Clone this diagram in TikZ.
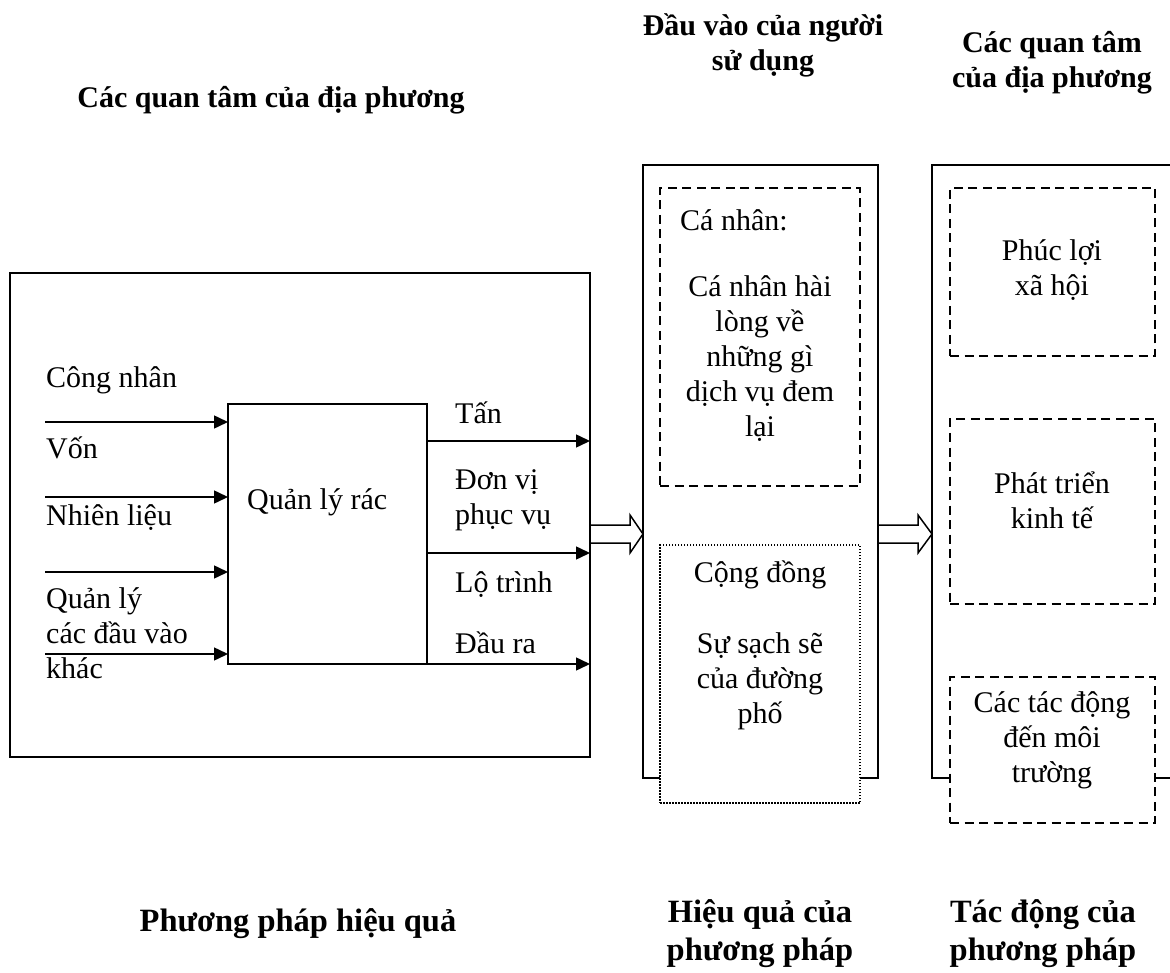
\documentclass[tikz,border=0pt]{standalone}
\usepackage{fontspec}
\setmainfont{Liberation Serif}
\usetikzlibrary{arrows.meta}
\begin{document}
\begin{tikzpicture}[x=1pt,y=-1pt,
  txt/.style={font=\fontsize{30}{35}\selectfont, inner sep=0pt},
  ttl/.style={font=\fontsize{30}{35}\selectfont\bfseries, inner sep=0pt, align=center},
  bttl/.style={font=\fontsize{32.5}{38}\selectfont\bfseries, inner sep=0pt, align=center},
  frame/.style={draw, line width=1.5pt, inner sep=0pt, outer sep=0pt, anchor=north west},
  dashbox/.style={frame, fill=white, line width=1.6pt, dash pattern=on 9pt off 5.5pt},
  dotbox/.style={frame, fill=white, line width=1.5pt, dash pattern=on 1.5pt off 1.5pt},
  arr/.style={line width=1.5pt, -{Triangle[length=14pt,width=13pt]}},
  hollow/.style={draw, line width=1.5pt, fill=white, line join=miter}
]
\useasboundingbox (0,0) rectangle (1170,973);
\clip (0,0) rectangle (1170,973);

% titles
\node[ttl] (t1) at (271,100) {Các quan tâm của địa phương};
\node[ttl] (t2) at (763,45) {Đầu vào của người\\sử dụng};
\node[ttl] (t3) at (1052,63) {Các quan tâm\\của địa phương};
\node[bttl] (b1) at (298,924) {Phương pháp hiệu quả};
\node[bttl] (b2) at (760,934) {Hiệu quả của\\phương pháp};
\node[bttl] (b3) at (1043,934) {Tác động của\\phương pháp};

% left block
\node[frame, minimum width=580pt, minimum height=484pt] (leftbox) at (10,273) {};
\node[frame, minimum width=199pt, minimum height=260pt] (qlr) at (228,404) {};
\node[txt, anchor=west] (qlrt) at (247,502) {Quản lý rác};

\coordinate (in1) at (45,422);
\coordinate (in2) at (45,497);
\coordinate (in3) at (45,572);
\coordinate (in4) at (45,654);
\foreach \c in {in1,in2,in3,in4} \draw[arr] (\c) -- (\c -| qlr.west);

\node[txt, anchor=west] (l1) at (46,380) {Công nhân};
\node[txt, anchor=west] (l2) at (46,448) {Vốn};
\node[txt, anchor=west] (l3) at (46,518) {Nhiên liệu};
\node[txt, anchor=west, align=left] (l4) at (46,633) {Quản lý\\các đầu vào\\khác};

\coordinate (o1) at (427,441);
\coordinate (o2) at (427,553);
\draw[arr] (o1) -- (o1 -| leftbox.east);
\draw[arr] (o2) -- (o2 -| leftbox.east);
\draw[arr] (qlr.south east) -- (qlr.south east -| leftbox.east);

\node[txt, anchor=west] (r1) at (455,413) {Tấn};
\node[txt, anchor=west, align=left] (r2) at (455,500) {Đơn vị\\phục vụ};
\node[txt, anchor=west] (r3) at (455,585) {Lộ trình};
\node[txt, anchor=west] (r4) at (455,643) {Đầu ra};

% middle column
\node[frame, minimum width=235pt, minimum height=613pt] (midcol) at (643,165) {};
\node[dashbox, minimum width=200pt, minimum height=298pt] (cn) at (660,188) {};
\node[dotbox, minimum width=200pt, minimum height=258pt] (cd) at (660,545) {};
\node[txt, anchor=west] (cnt) at (680,220) {Cá nhân:};
\node[txt, align=center] (cnb) at (760,359) {Cá nhân hài\\lòng về\\những gì\\dịch vụ đem\\lại};
\node[txt] (cdt) at (760,575) {Cộng đồng};
\node[txt, align=center] (cdb) at (760,681) {Sự sạch sẽ\\của đường\\phố};

% right column
\node[frame, minimum width=270pt, minimum height=613pt] (rightcol) at (932,165) {};
\node[dashbox, minimum width=205pt, minimum height=168pt] (rb1) at (950,188) {};
\node[dashbox, minimum width=205pt, minimum height=185pt] (rb2) at (950,419) {};
\node[dashbox, minimum width=205pt, minimum height=146pt] (rb3) at (950,677) {};
\node[txt, align=center] (rb1t) at (1052,270) {Phúc lợi\\xã hội};
\node[txt, align=center] (rb2t) at (1052,500) {Phát triển\\kinh tế};
\node[txt, align=center] (rb3t) at (1052,740) {Các tác động\\đến môi\\trường};

% hollow arrows
\path[hollow] (leftbox.east |- 0,525) -- (630,525) -- (630,515) -- (midcol.west |- 0,534)
  -- (630,553) -- (630,543) -- (leftbox.east |- 0,543) -- cycle;
\path[hollow] (midcol.east |- 0,525) -- (918,525) -- (918,515) -- (rightcol.west |- 0,534)
  -- (918,553) -- (918,543) -- (midcol.east |- 0,543) -- cycle;
\end{tikzpicture}
\end{document}
